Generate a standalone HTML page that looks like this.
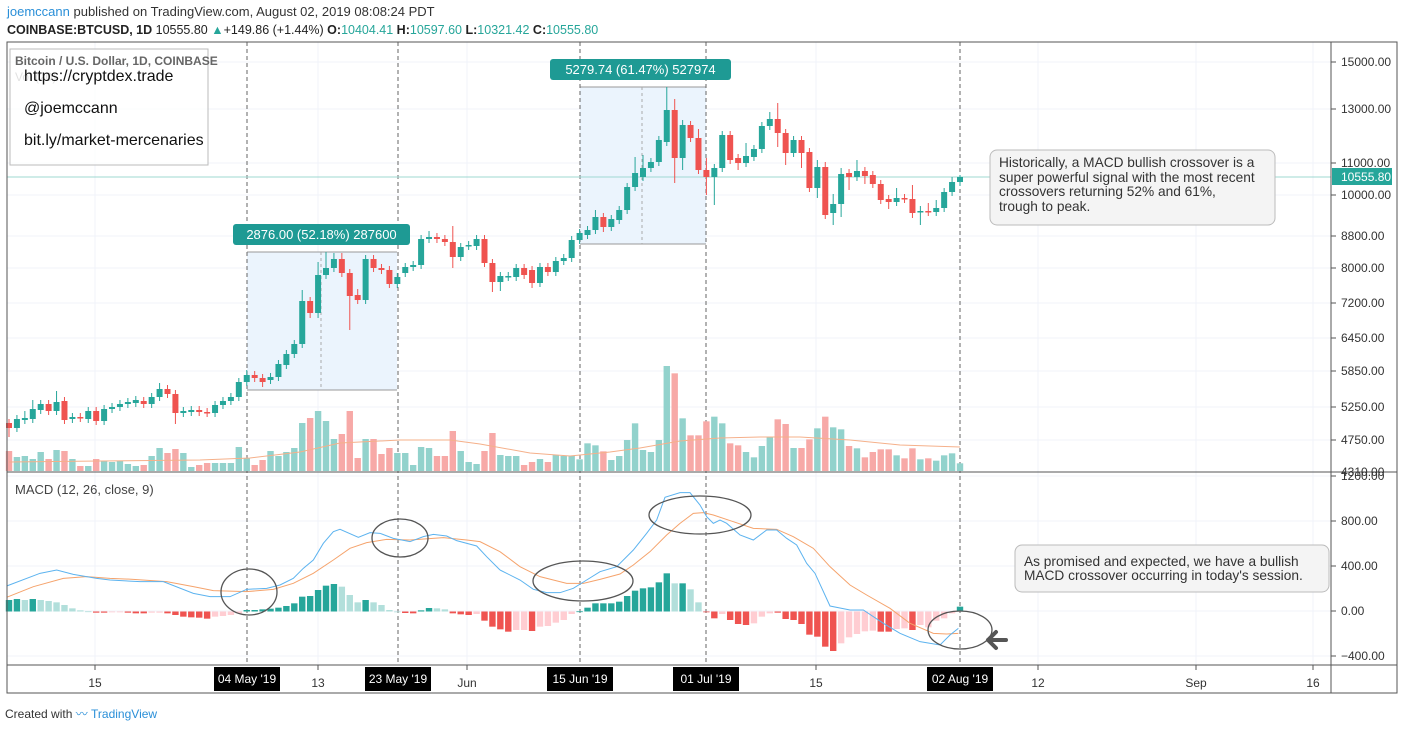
<!DOCTYPE html>
<html><head><meta charset="utf-8"><style>
html,body{margin:0;padding:0;background:#fff;width:1404px;height:731px;overflow:hidden}
svg{display:block}
text{font-family:"Liberation Sans",sans-serif}
</style></head><body>
<svg id="s" width="1404" height="731" xmlns="http://www.w3.org/2000/svg">
<rect width="1404" height="731" fill="#fff"/>
<text x="7" y="16" font-size="13" fill="#333"><tspan fill="#2a8fd8">joemccann</tspan> published on TradingView.com, August 02, 2019 08:08:24 PDT</text>
<text x="7" y="34" font-size="12.5" font-weight="bold" fill="#222">COINBASE:BTCUSD, 1D <tspan font-weight="normal">10555.80</tspan> <tspan fill="#26a69a">▲</tspan><tspan font-weight="normal">+149.86 (+1.44%)</tspan> O:<tspan fill="#26a69a" font-weight="normal">10404.41</tspan> H:<tspan fill="#26a69a" font-weight="normal">10597.60</tspan> L:<tspan fill="#26a69a" font-weight="normal">10321.42</tspan> C:<tspan fill="#26a69a" font-weight="normal">10555.80</tspan></text>
<g id="grid"></g>
<g id="main"></g>
<rect x="7" y="42" width="1390" height="651" fill="none" stroke="#555" stroke-width="1"/>
<line x1="1331" y1="42" x2="1331" y2="693" stroke="#555"/>
<line x1="7" y1="472" x2="1397" y2="472" stroke="#555"/>
<line x1="7" y1="665" x2="1397" y2="665" stroke="#555"/>
<g id="axis"></g>
<text x="5" y="718" font-size="12" fill="#333">Created with <tspan fill="#2a8fd8">〰 TradingView</tspan></text>
</svg>
<script>
const NS="http://www.w3.org/2000/svg";
function el(p,t,a,txt){const e=document.createElementNS(NS,t);for(const k in a)e.setAttribute(k,a[k]);if(txt!=null)e.textContent=txt;p.appendChild(e);return e;}
const G=document.getElementById('grid'),M=document.getElementById('main'),A=document.getElementById('axis');
const py={ "15000.00":62,"13000.00":109,"11000.00":163,"10000.00":195,"8800.00":236,"8000.00":268,"7200.00":303,"6450.00":338,"5850.00":371,"5250.00":407,"4750.00":440,"4310.00":472};
for(const k in py){ if(k!=="4310.00") el(G,'line',{x1:7,x2:1331,y1:py[k],y2:py[k],stroke:'#f0f3fa'});
 el(A,'line',{x1:1331,x2:1336,y1:py[k],y2:py[k],stroke:'#555'});
 el(A,'text',{x:1341,y:py[k]+4,'font-size':12,fill:'#333'},k);}
const my={"1200.00":476,"800.00":521,"400.00":566,"0.00":611,"−400.00":656};
for(const k in my){ el(G,'line',{x1:7,x2:1331,y1:my[k],y2:my[k],stroke:'#f0f3fa'});
 el(A,'line',{x1:1331,x2:1336,y1:my[k],y2:my[k],stroke:'#555'});
 el(A,'text',{x:1341,y:my[k]+4,'font-size':12,fill:'#333'},k);}
const tl=[[95,"15"],[318,"13"],[467,"Jun"],[816,"15"],[1038,"12"],[1196,"Sep"],[1313,"16"]];
for(const [x,t] of tl){el(G,'line',{x1:x,x2:x,y1:42,y2:665,stroke:'#f0f3fa'});el(A,'line',{x1:x,x2:x,y1:665,y2:670,stroke:'#555'});el(A,'text',{x:x,y:687,'font-size':12,fill:'#333','text-anchor':'middle'},t);}
el(M,'rect',{x:247,y:252,width:150,height:138,fill:'#ebf4fd'});
el(M,'line',{x1:247,x2:397,y1:252,y2:252,stroke:'#999'});el(M,'line',{x1:247,x2:397,y1:390,y2:390,stroke:'#999'});
el(M,'line',{x1:321,x2:321,y1:252,y2:390,stroke:'#aaa','stroke-dasharray':'3,3'});
el(M,'rect',{x:580,y:87,width:126,height:157,fill:'#ebf4fd'});
el(M,'line',{x1:580,x2:706,y1:87,y2:87,stroke:'#999'});el(M,'line',{x1:580,x2:706,y1:244,y2:244,stroke:'#999'});
el(M,'line',{x1:642,x2:642,y1:87,y2:244,stroke:'#aaa','stroke-dasharray':'3,3'});
for(const x of [247,398,580,706,960]) el(M,'line',{x1:x,x2:x,y1:42,y2:665,stroke:'#666','stroke-dasharray':'4,3'});
el(M,'line',{x1:7,x2:1331,y1:177,y2:177,stroke:'#9fd8d2'});
const C=[['R',423,428,0,437],['G',419,428],['G',418,420,411],['G',409,419,400],['G',404,410],['R',404,411],['G',402,411,391],['R',401,420],['G',417,419],['R',417,418],['G',411,419],['R',411,421],['G',409,421],['G',407,409],['G',404,407],['G',402,404],['G',400,403],['R',401,404],['G',397,404],['G',389,397,383],['R',389,394],['R',394,413,0,424],['G',411,413],['G',410,412],['R',410,412],['R',412,413],['G',405,413],['G',401,405],['G',397,401],['G',382,397],['G',375,382,370],['R',375,378],['R',378,382,0,387],['G',377,380],['G',364,377],['G',354,365],['G',344,354],['G',301,344,290],['R',301,313,0,318],['G',275,313,262,318],['G',268,275,252],['G',259,268,253],['R',259,273,253],['R',273,296,0,330],['R',295,300,289],['G',259,300,255],['R',259,268],['R',268,270],['R',270,284],['G',277,284],['G',267,273],['G',265,267],['G',239,265],['G',237,239,231],['R',237,239],['R',239,242],['R',242,257,226,268],['G',247,257],['G',245,246],['G',239,246,235],['R',239,263],['R',263,282,0,292],['G',276,282,0,291],['G',276,277],['G',268,277],['R',268,275],['R',270,283,0,288],['G',267,283],['R',267,272],['G',261,272],['G',258,261],['G',240,258],
['G',233,240],['G',230,235],['G',217,230,210],['R',217,227,0,232],['G',219,227],['G',210,220],['G',187,210],['G',173,187,157],['G',168,177,155],['G',162,168],['G',140,162],['G',110,142,87],['R',110,158,99,183],['G',125,158,120,170],['R',125,138],['R',138,170,129],['R',170,177,158,195],['G',168,177,0,205],['G',135,168],['R',135,160],['R',158,163,0,170],['G',156,163,143],['G',149,157],['G',126,149],['G',119,126,112],['R',119,133,103,147],['R',133,153,0,165],['G',140,153],['R',140,153,0,168],['R',152,188],['G',167,188,160,198],['R',167,215,162],['G',204,213,194,225],['G',174,204,168,217],['R',173,177,0,190],['G',171,177,160],['R',171,176,0,184],['R',175,184],['R',184,200],['R',199,202,0,209],['G',198,202,188],['R',198,199],['R',199,213,185,218],['G',211,212,206,225],['R',211,212,203],['G',208,212,200],['G',192,208],['G',182,192,177],['G',177,182,175]];
const V=[451,457,456,459,452,459,450,451,459,466,466,459,461,462,461,464,466,465,456,448,453,449,453,467,465,463,463,463,463,447,458,465,460,451,456,452,448,423,418,411,421,439,434,411,458,439,439,454,448,453,453,465,447,448,456,456,431,451,462,464,451,433,455,456,456,465,462,459,462,455,456,456].concat([1228,1180,1186,1204,1230,1218,1170,1120,1200,1206,1170,948,970,1105,1156,1156,1114,1100,1120,1180,1186,1206,1222,1188,1162,1108,1122,1194,1194,1168,1135,1100,1132,1138,1188,1195,1222,1206,1198,1198,1216,1225,1195,1228,1225,1232,1216,1210,1240].map(v=>50+v/3));
const N=C.length, X=i=>9+i*(951/(N-1));
for(let i=0;i<N;i++){const x=X(i),c=C[i][0]=='G'?'#92d2cc':'#f7a9a7';el(M,'rect',{x:x-3.2,y:V[i],width:6.4,height:Math.max(0,471-V[i]),fill:c});}
el(M,'polyline',{points:"9,462 100,461 200,460 250,458 300,452 340,443 400,440 450,440 480,444 530,453 570,456 610,452 640,448 680,441 720,438 760,437 800,437 850,440 900,445 960,447",fill:'none',stroke:'#f5b08a','stroke-width':1});
for(let i=0;i<N;i++){const [t,a,b,h,l]=C[i];const x=X(i),c=t=='G'?'#26a69a':'#ef5350';
 const hi=h||a-4, lo=l||b+4;
 el(M,'line',{x1:x,x2:x,y1:hi,y2:lo,stroke:c,'stroke-width':1});
 el(M,'rect',{x:x-3,y:a,width:6,height:Math.max(1.5,b-a),fill:c});}
const H1=[[390,'T'],[387,'T'],[390,'L'],[387,'T'],[390,'L'],[393,'L'],[397,'L'],[405,'L'],[415,'L'],[421,'L'],[424,'L'],[428,'R'],[428,'R'],[427,'P'],[427,'P'],[428,'R'],[430,'R'],[430,'R'],[428,'P'],[428,'P'],[430,'R'],[435,'R'],[440,'R'],[442,'R'],[443,'R'],[446,'R'],[440,'P'],[438,'P'],[435,'P'],[430,'P'],[420,'T'],[420,'T'],[418,'T'],[416,'T'],[413,'T'],[408,'T'],[400,'T'],[380,'T'],[378,'T'],[360,'T'],[347,'T'],[342,'T'],[350,'L'],[375,'L'],[397,'L'],[390,'T'],[397,'L'],[405,'L'],[420,'L'],[425,'L'],[429,'R'],[430,'R'],[421,'T'],[414,'T'],[415,'L'],[418,'L'],[430,'R'],[433,'R'],[435,'R'],[432,'P'],[452,'R'],[470,'R'],[478,'R'],
[485,'R'],[480,'P'],[480,'P'],[483,'R'],[470,'P'],[468,'P'],[458,'P'],[450,'P'],[432,'P'],[424,'T'],[413,'T'],[400,'T'],[400,'T'],[400,'T'],[395,'T'],[378,'T'],[362,'T'],[355,'T'],[352,'T'],[337,'T'],[310,'T'],[340,'L'],[340,'T'],[358,'L'],[397,'L'],[426,'R'],[445,'R'],[432,'P'],[450,'R'],[462,'R'],[465,'R'],[460,'P'],[440,'P'],[430,'P'],[428,'R'],[447,'R'],[450,'R'],[462,'R'],[494,'R'],[500,'R'],[530,'R'],[543,'R'],[520,'P'],[502,'P'],[492,'P'],[484,'P'],[482,'P'],[485,'R'],[485,'R'],[477,'P'],[475,'P'],[480,'R'],[465,'P'],[472,'P'],[452,'P'],[445,'P'],[430,'P'],[410,'T']];
const col={T:'#26a69a',L:'#b2dfdb',R:'#ef5350',P:'#ffcdd2'};
for(let i=0;i<H1.length&&i<N;i++){const y=470+H1[i][0]/3,z=611.5;const x=X(i);
 el(M,'rect',{x:x-3.2,y:Math.min(y,z),width:6.4,height:Math.max(0.8,Math.abs(y-z)),fill:col[H1[i][1]]});}
function pl(pts,ox,c){el(M,'polyline',{points:pts.map(p=>(ox+p[0]/3)+','+(470+p[1]/3)).join(' '),fill:'none',stroke:c,'stroke-width':1});}
const B4=[[20,348],[120,310],[170,300],[220,313],[290,325],[330,330],[420,335],[490,335],[580,370],[630,380],[690,380],[740,358],[800,355],[840,345],[880,325],[910,295],[940,270],[970,220],[1000,185],[1020,178],[1075,202],[1110,188],[1140,190],[1180,205],[1230,215],[1270,200],[1300,193],[1340,198],[1370,212],[1430,228],[1460,260],[1500,300]];
const B5=[[0,300],[60,330],[100,358],[140,368],[180,368],[220,355],[260,330],[300,305],[350,290],[400,240],[440,190],[470,150],[495,82],[540,68],[570,68],[600,105],[620,140],[640,160],[660,150],[680,160],[720,195],[760,210],[800,180],[830,180],[860,205],[890,225],[920,280],[945,310],[990,408],[1050,420],[1090,420],[1150,460],[1200,490],[1260,515],[1320,525],[1350,495],[1375,475]];
const O4=[[20,382],[100,350],[190,325],[260,320],[330,325],[400,328],[500,335],[580,350],[640,362],[740,365],[820,358],[880,340],[940,310],[1000,270],[1050,235],[1100,218],[1160,208],[1230,210],[1330,203],[1400,210],[1440,215],[1500,245]];
const O5=[[0,245],[60,290],[120,320],[200,340],[250,340],[300,328],[360,312],[400,285],[450,245],[500,195],[540,160],[580,130],[610,128],[640,135],[700,155],[760,175],[830,178],[880,200],[940,235],[990,290],[1050,345],[1100,375],[1170,415],[1230,460],[1300,490],[1340,492],[1375,490]];
pl(O4,0,'#f5a36c');pl(O5,500,'#f5a36c');pl(B4,0,'#5cb3ef');pl(B5,500,'#5cb3ef');
el(M,'text',{x:15,y:494,'font-size':13,fill:'#444'},'MACD (12, 26, close, 9)');
for(const e of [[249,592,28,23],[400,538,28,19],[583,581,50,20],[700,515,51,19],[960,630,32,19]]) el(M,'ellipse',{cx:e[0],cy:e[1],rx:e[2],ry:e[3],fill:'none',stroke:'#555','stroke-width':1.3});
el(M,'path',{d:'M988,640 L996,632 M988,640 L996,648 M988,640 L1006,640',stroke:'#555','stroke-width':4,fill:'none','stroke-linecap':'round'});
el(M,'rect',{x:233,y:224,width:177,height:21,rx:3,fill:'#1e9a94'});
el(M,'text',{x:321.5,y:239,'font-size':13,fill:'#fff','text-anchor':'middle'},'2876.00 (52.18%) 287600');
el(M,'rect',{x:550,y:59,width:181,height:21,rx:3,fill:'#1e9a94'});
el(M,'text',{x:640.5,y:74,'font-size':13,fill:'#fff','text-anchor':'middle'},'5279.74 (61.47%) 527974');
el(M,'rect',{x:1332,y:168,width:60,height:17,fill:'#26a69a'});
el(M,'text',{x:1341,y:181,'font-size':12,fill:'#fff'},'10555.80');
for(const [x,t] of [[247,"04 May '19"],[398,"23 May '19"],[580,"15 Jun '19"],[706,"01 Jul '19"],[960,"02 Aug '19"]]){
 el(A,'rect',{x:x-33,y:667,width:66,height:24,fill:'#000'});el(A,'text',{x:x,y:683,'font-size':12,fill:'#fff','text-anchor':'middle'},t);}
el(M,'rect',{x:990,y:150,width:285,height:75,rx:7,fill:'#f4f4f4',stroke:'#bbb'});
[["Historically, a MACD bullish crossover is a",167],["super powerful signal with the most recent",182],["crossovers returning 52% and 61%,",196],["trough to peak.",211]].forEach(([t,y])=>el(M,'text',{x:999,y:y,'font-size':13.7,fill:'#333'},t));
el(M,'rect',{x:1015,y:545,width:314,height:47,rx:7,fill:'#f4f4f4',stroke:'#bbb'});
el(M,'text',{x:1024,y:566,'font-size':13.7,fill:'#333'},'As promised and expected, we have a bullish');
el(M,'text',{x:1024,y:580,'font-size':13.7,fill:'#333'},"MACD crossover occurring in today's session.");
el(M,'text',{x:15,y:81,'font-size':12,fill:'#888'},'Vol (20)');
el(M,'rect',{x:10,y:49,width:198,height:116,fill:'rgba(255,255,255,0.75)',stroke:'#bbb'});
el(M,'text',{x:15,y:65,'font-size':12,fill:'#666','font-weight':'bold'},'Bitcoin / U.S. Dollar, 1D, COINBASE');
el(M,'text',{x:24,y:81,'font-size':16,fill:'#111'},'https://cryptdex.trade');
el(M,'text',{x:24,y:113,'font-size':16,fill:'#111'},'@joemccann');
el(M,'text',{x:24,y:145,'font-size':16,fill:'#111'},'bit.ly/market-mercenaries');
</script>
</body></html>
